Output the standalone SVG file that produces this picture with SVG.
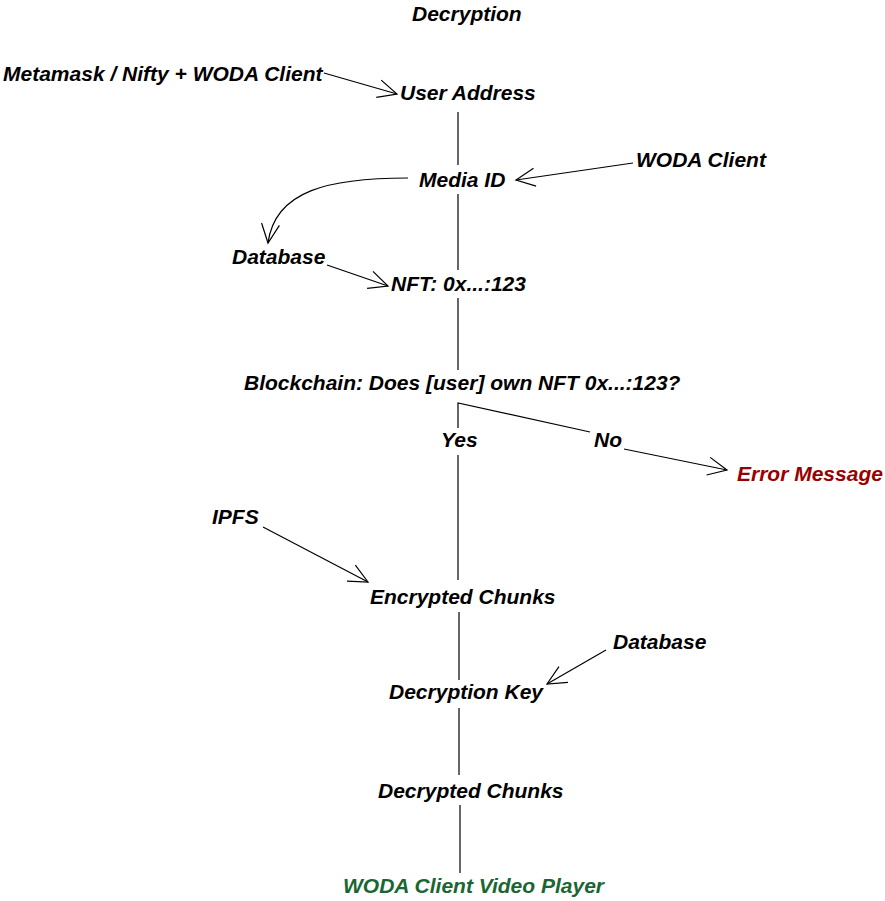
<svg xmlns="http://www.w3.org/2000/svg" width="885" height="901" viewBox="0 0 885 901">
<style>
text{font-family:"Liberation Sans",Arial,sans-serif;font-size:21px;font-weight:bold;font-style:italic;fill:#000}
.err{fill:#990000}
.grn{fill:#1a6632}
.c{stroke:#000;stroke-width:1.2;fill:none}
</style>
<defs>
<marker id="ah" markerUnits="userSpaceOnUse" markerWidth="26" markerHeight="26" refX="21" refY="11" orient="auto" viewBox="0 0 26 22">
<polyline points="2,2 21,11 2,20" fill="none" stroke="#000" stroke-width="1.2"/>
</marker>
</defs>
<rect width="885" height="901" fill="#fff"/>
<g id="connectors">
<line class="c" x1="324" y1="73" x2="397" y2="94" marker-end="url(#ah)"/>
<line class="c" x1="458" y1="112" x2="458" y2="165"/>
<line class="c" x1="633" y1="163" x2="516" y2="180" marker-end="url(#ah)"/>
<path class="c" d="M408,178 C330,178 275,190 268,243" marker-end="url(#ah)"/>
<line class="c" x1="458" y1="194" x2="458" y2="270"/>
<line class="c" x1="327" y1="265" x2="388" y2="286" marker-end="url(#ah)"/>
<line class="c" x1="458" y1="298" x2="458" y2="370"/>
<polyline class="c" points="458,428 458,403 590,432"/>
<line class="c" x1="624" y1="449" x2="727" y2="470" marker-end="url(#ah)"/>
<line class="c" x1="458" y1="455" x2="458" y2="580"/>
<line class="c" x1="263" y1="527" x2="368" y2="582" marker-end="url(#ah)"/>
<line class="c" x1="459" y1="612" x2="459" y2="680"/>
<line class="c" x1="606" y1="650" x2="547" y2="684" marker-end="url(#ah)"/>
<line class="c" x1="459" y1="708" x2="459" y2="775"/>
<line class="c" x1="460" y1="805" x2="460" y2="873"/>
</g>
<g id="title"><text x="412" y="21">Decryption</text></g>
<g id="metamask"><text x="3" y="81">Metamask / Nifty + WODA Client</text></g>
<g id="user-address"><text x="400" y="100">User Address</text></g>
<g id="media-id"><text x="419" y="187">Media ID</text></g>
<g id="woda-client"><text x="636" y="167">WODA Client</text></g>
<g id="database1"><text x="232" y="264">Database</text></g>
<g id="nft"><text x="391" y="291">NFT: 0x...:123</text></g>
<g id="blockchain"><text x="244" y="390">Blockchain: Does [user] own NFT 0x...:123?</text></g>
<g id="yes"><text x="441" y="447">Yes</text></g>
<g id="no"><text x="594" y="447">No</text></g>
<g id="error"><text class="err" x="737" y="481">Error Message</text></g>
<g id="ipfs"><text x="212" y="524">IPFS</text></g>
<g id="encrypted"><text x="370" y="604">Encrypted Chunks</text></g>
<g id="database2"><text x="613" y="649">Database</text></g>
<g id="key"><text x="389" y="699">Decryption Key</text></g>
<g id="decrypted"><text x="378" y="798">Decrypted Chunks</text></g>
<g id="player"><text class="grn" x="343" y="893">WODA Client Video Player</text></g>
</svg>
